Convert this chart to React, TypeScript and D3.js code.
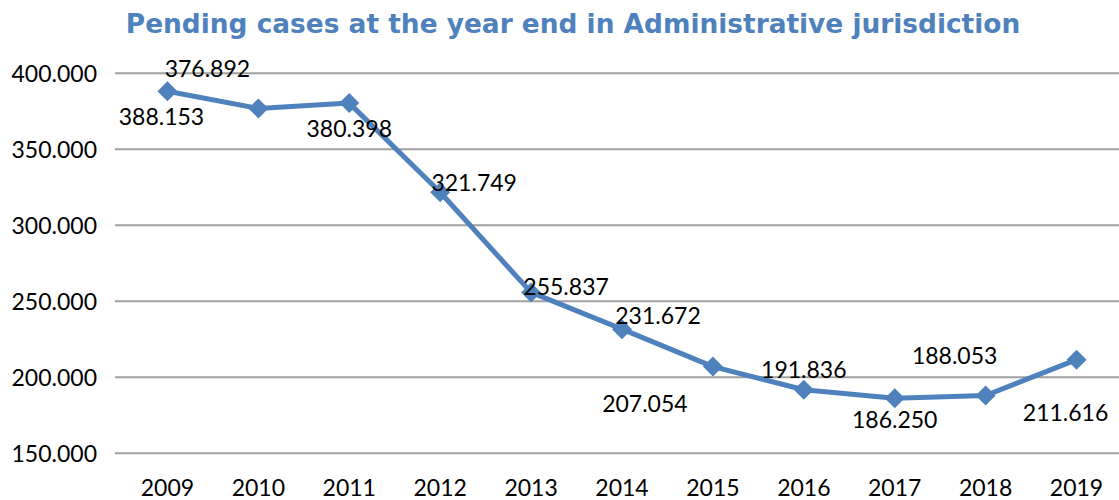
import * as d3 from "d3";

const years = ["2009", "2010", "2011", "2012", "2013", "2014", "2015", "2016", "2017", "2018", "2019"];
const pending = [388153, 376892, 380398, 321749, 255837, 231672, 207054, 191836, 186250, 188053, 211616];
const yTicks = [150000, 200000, 250000, 300000, 350000, 400000];
// where Excel put each data label, relative to its point (dx, dy of label centre)
const labelDx = [-6, -51, 0, 34, 35, 36, -68, 0, 0, -31, -11];
const labelDy = [25, -40, 26, -10, -6, -13, 37, -20, 22, -40, 53];

const title = "Pending cases at the year end in Administrative jurisdiction";

const width = 1119;
const height = 500;
const marginLeft = 122;
const marginRight = -3;
const yTop = 73.3;
const yBottom = 453.3;

// thousands with a dot, like the source (388.153)
const label = (v: number) => {
    const k = Math.floor(v / 1000);
    const r = String(v % 1000).padStart(3, "0");
    return `${k}.${r}`;
};

const App = () => {
    const x = d3.scalePoint<string>().domain(years).range([marginLeft, width - marginRight]).padding(0.5);
    const y = d3.scaleLinear().domain([150000, 400000]).range([yBottom, yTop]);

    const line = d3.line<number>().x((_, i) => x(years[i]) as number).y(d => y(d));
    const font = "Lato, 'Open Sans', sans-serif";

    return (
        <div style={{ position: "absolute", left: 0, top: 0 }}>
            <svg width={width} height={height} style={{ display: "block", background: "#fff" }}>
                <text x={573} y={33} textAnchor="middle" fill="#4f81bd" fontFamily="'DejaVu Sans', Verdana, sans-serif" fontWeight="bold" fontSize={26.4}>
                    {title}
                </text>
                <g>
                    {yTicks.map(t => (
                        <g key={t}>
                            <line x1={marginLeft - 7} x2={width} y1={y(t)} y2={y(t)} stroke="#a0a0a0" strokeWidth={2} />
                            <text x={97} y={y(t)} dy="0.36em" textAnchor="end" fontFamily={font} fontSize={23} fill="#000">
                                {label(t)}
                            </text>
                        </g>
                    ))}
                </g>
                <g>
                    {years.map(yr => (
                        <text key={yr} x={x(yr)} y={496} textAnchor="middle" fontFamily={font} fontSize={23} fill="#000">{yr}</text>
                    ))}
                </g>
                <path d={line(pending) as string} fill="none" stroke="#4f81bd" strokeWidth={5} strokeLinejoin="round" />
                {pending.map((v, i) => {
                    const cx = x(years[i]) as number;
                    const cy = y(v);
                    const r = 10;
                    return (
                        <path key={i} d={`M${cx},${cy - r}L${cx + r},${cy}L${cx},${cy + r}L${cx - r},${cy}Z`} fill="#4f81bd" />
                    );
                })}
                {pending.map((v, i) => (
                    <text key={i} x={(x(years[i]) as number) + labelDx[i]} y={y(v) + labelDy[i]} dy="0.36em" textAnchor="middle" fontFamily={font} fontSize={23} fill="#000">
                        {label(v)}
                    </text>
                ))}
            </svg>
        </div>
    );
};

export default App;
